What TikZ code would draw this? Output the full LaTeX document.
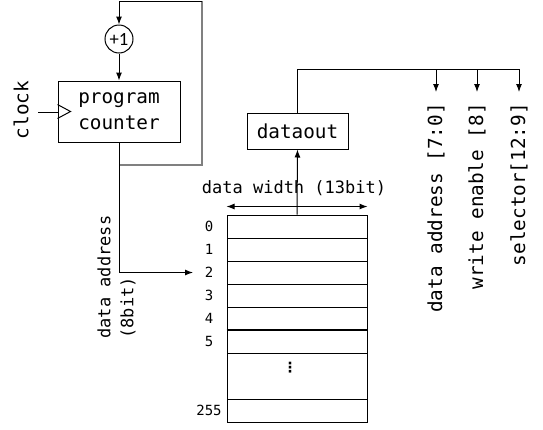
\documentclass[tikz,border=0pt]{standalone}
\usepackage{fontspec}
\setmonofont{DejaVu Sans Mono}
\newfontfamily\incfont{Carlito}
\newfontfamily\symfont{DejaVu Sans}
\usetikzlibrary{arrows.meta,positioning}

\begin{document}
\begin{tikzpicture}[x=0.75pt, y=-0.75pt, line width=0.75pt,
  >={Latex[length=6pt,width=4.5pt]},
  bigtext/.style={font=\ttfamily\fontsize{14.5}{19.5}\selectfont},
  midtext/.style={font=\ttfamily\fontsize{12.75}{17.25}\selectfont},
  smalltext/.style={font=\ttfamily\fontsize{10.5}{12}\selectfont},
  block/.style={draw, bigtext, align=center},
  memrow/.style={draw, minimum width=105pt, minimum height=17.25pt, inner sep=0pt},
  outlabel/.style={bigtext, rotate=90, anchor=east, inner xsep=8pt, inner ysep=1pt},
  feedback/.style={gray, line width=1.1pt}]
  \useasboundingbox (0,0) rectangle (543,429);

  % Program counter with increment loop
  \node[circle, draw, minimum size=21pt, inner sep=0pt,
        font=\incfont\fontsize{14}{16}\selectfont] (inc) at (119,39) {+1};
  \node[block, minimum width=91.5pt, minimum height=45.75pt] (pc) at (119,111.5) {program\\counter};
  \coordinate (fb) at (119,165);
  \coordinate (fbtop) at (202,1);
  \draw[feedback] (fb) -| (fbtop);
  \draw[->] (fbtop) -| (inc.north);
  \draw[->] (inc) -- (pc);

  % Clock input
  \node[bigtext, rotate=90] (clk) at (21,110) {clock};
  \coordinate (clkin) at (38,112);
  \draw (clkin) -- (clkin -| pc.west);
  \draw ([yshift=5.25pt]pc.west) -- ++(13,7) -- ++(-13,7);

  % Memory rows
  \foreach \i in {0,...,5} {
    \node[memrow] (row\i) at (297,226.5+23*\i) {};
    \node[smalltext] (lbl\i) at (209,226.5+23*\i) {\i};
  }
  \node[memrow, minimum height=34.5pt] (rowdots) at (297,376) {};
  \node[font=\symfont\bfseries\fontsize{10.5}{12}\selectfont] (dots) at (290,368) {⋮};
  \node[memrow] (row255) at (297,410.5) {};
  \node[smalltext] (lbl255) at (209,410.5) {255};
  \draw[line width=1.5pt] (row5.north west) -- (row5.north east);

  % Address into memory
  \coordinate (addr) at (193,272.5);
  \draw[->] (pc.south) |- (addr);
  \node[midtext, rotate=90, anchor=west, align=left, inner sep=0pt] (addrlbl) at (116.5,339) {data address\\(8bit)};

  % Data width
  \draw[<->] ([yshift=6pt]row0.north west) -- ([yshift=6pt]row0.north east);
  \node[midtext] (widthlbl) at (294,188) {data width (13bit)};

  % Output word and its fields
  \node[block, minimum width=75.75pt, minimum height=27pt] (dout) at (297.5,131) {dataout};
  \draw[->] (row0.north) -- (dout.south);
  \coordinate (bus) at (519,69);
  \node[outlabel] (daddr) at (436,92) {data address [7:0]};
  \node[outlabel] (wen) at (477,92) {write enable [8]};
  \node[outlabel] (sel) at (519,92) {selector[12:9]};
  \draw (dout.north) |- (bus);
  \foreach \n in {daddr,wen,sel}
    \draw[->] (\n.east |- bus) -- (\n.east);
\end{tikzpicture}
\end{document}
